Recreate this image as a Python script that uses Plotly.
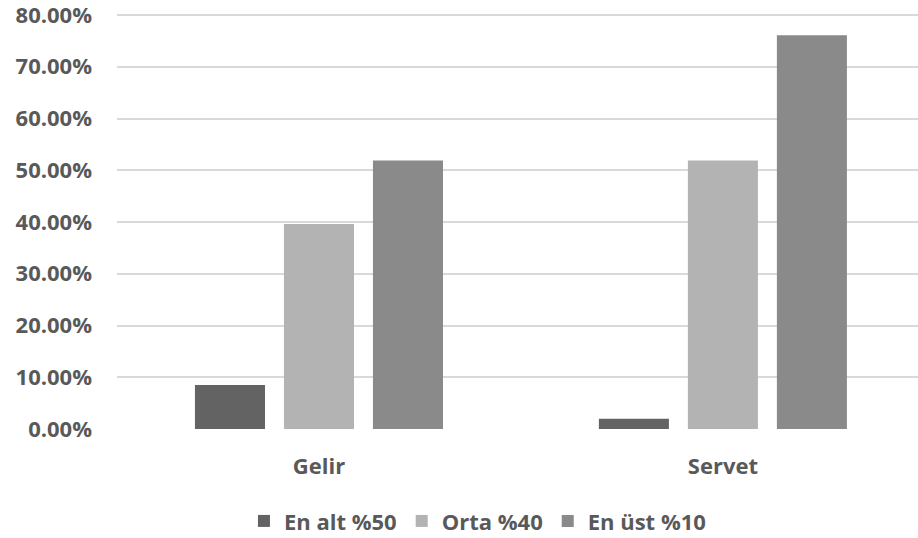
import plotly.graph_objects as go

categories = ["Gelir", "Servet"]
series_names = ["En alt %50", "Orta %40", "En üst %10"]
bottom50 = [8.5, 2.0]
middle40 = [39.6, 51.9]
top10 = [51.9, 76.1]
colors = ["#636363", "#b3b3b3", "#8a8a8a"]
y_ticks = [0, 10, 20, 30, 40, 50, 60, 70, 80]
y_tick_labels = [f"{v:.2f}%" for v in y_ticks]

font_family = "Open Sans"
text_color = "#595959"

fig = go.Figure()
for name, vals, col in zip(series_names, [bottom50, middle40, top10], colors):
    fig.add_trace(go.Bar(
        x=categories, y=vals, name=name,
        marker=dict(color=col, line=dict(width=0)),
    ))

fig.update_layout(
    width=918, height=538,
    margin=dict(l=117, r=0, t=14, b=109, autoexpand=False),
    paper_bgcolor="white", plot_bgcolor="white",
    barmode="group", bargap=0.339, bargroupgap=0.213,
    font=dict(family=font_family, color=text_color, size=22),
    showlegend=True,
    legend=dict(
        orientation="h", x=0.45, xanchor="center", y=-0.222, yanchor="middle",
        font=dict(family=font_family, size=22, color=text_color, weight="bold"),
        itemwidth=30, traceorder="normal",
    ),
)
fig.update_xaxes(
    type="category", range=[-0.5, 1.483],
    showgrid=False, zeroline=False, showline=False, ticks="",
    tickfont=dict(family=font_family, size=22, color=text_color, weight="bold"),
    ticklabelstandoff=22,
)
fig.update_yaxes(
    range=[0, 80.2], tickmode="array", tickvals=y_ticks, ticktext=y_tick_labels,
    showgrid=True, gridcolor="#d9d9d9", gridwidth=1.5,
    zeroline=False, showline=False, ticks="",
    tickfont=dict(family=font_family, size=22, color=text_color, weight="bold"),
    ticklabelstandoff=24, ticklabeloverflow="allow",
)

fig.write_html("out.html", config={"displayModeBar": False},
               post_script="document.body.style.margin='0';")
